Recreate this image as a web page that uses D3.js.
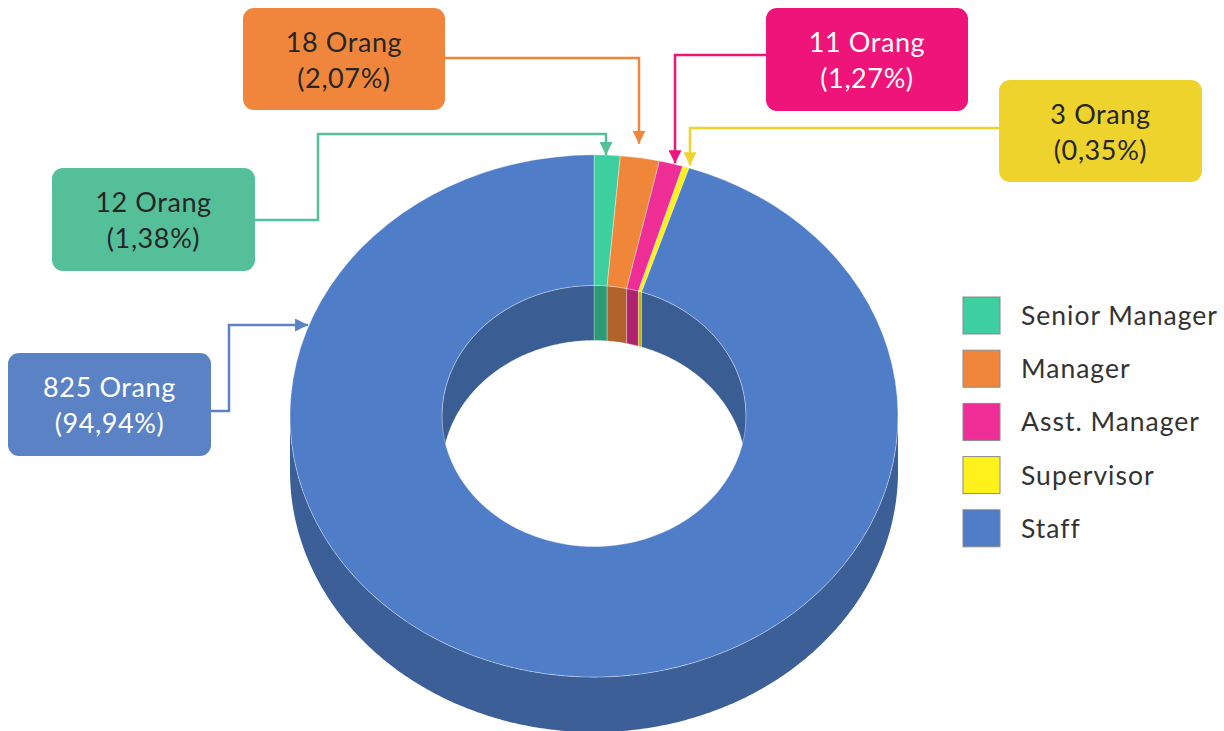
<!DOCTYPE html>
<html>
<head>
<meta charset="utf-8">
<script src="https://cdn.jsdelivr.net/npm/d3@7"></script>
<style>
  html, body { margin: 0; padding: 0; background: #fff; }
  svg { display: block; }
  text { font-family: Lato, "Open Sans", sans-serif; font-weight: 400; }
</style>
</head>
<body>
<svg id="chart" width="1224" height="731"></svg>
<script>
// data
const categories = ["Senior Manager", "Manager", "Asst. Manager", "Supervisor", "Staff"];
const counts = [12, 18, 11, 3, 825];
const unitLabel = "Orang";

// colours
const sliceColors = ["#3dcf9f", "#ef863a", "#ee2e96", "#fff21a", "#4f7dc8"];
const boxColors = ["#55bf9a", "#ef863b", "#ee1479", "#eed32c", "#5b82c4"];
const boxTextColors = ["#262626", "#262626", "#ffffff", "#262626", "#ffffff"];

// donut geometry (a tilted ring)
const cx = 594, cy = 416;
const outerR = 304, innerR = 152;
const tilt = 0.859;     // vertical squash of the ellipse
const depth = 55;       // thickness of the ring

// callout layout: box [x, y, w, h], elbow points, and where the arrow ends
const callouts = [
  { box: [52, 168, 203, 103], elbow: [[255, 220], [318, 220], [318, 134], [606, 134]], tip: { x: 606, gap: 0 } },
  { box: [243, 8, 202, 102], elbow: [[445, 58], [639, 58]], tip: { x: 639, gap: 14 } },
  { box: [766, 8, 202, 103], elbow: [[766, 55], [675, 55]], tip: { x: 675, gap: 1 } },
  { box: [999, 80, 203, 102], elbow: [[999, 128], [690, 128]], tip: { x: 690, gap: 3 } },
  { box: [8, 353, 203, 103], elbow: [[211, 411], [229, 411], [229, 325]], tip: { y: 325, gap: 1 } }
];

const total = d3.sum(counts);
const pctFormat = v => (v * 100).toFixed(2).replace(".", ",") + "%";

const svg = d3.select("#chart");

const pie = d3.pie().sort(null).value(d => d);
const slices = pie(counts);

// point on the tilted ellipse at angle a (0 = top, clockwise)
function proj(a, r, dy) {
  return [cx + r * Math.sin(a), cy - tilt * r * Math.cos(a) + (dy || 0)];
}

function wallPath(a0, a1, r) {
  const n = Math.max(2, Math.ceil((a1 - a0) / 0.01));
  const angles = d3.range(n + 1).map(i => a0 + (a1 - a0) * i / n);
  const top = angles.map(a => proj(a, r, 0));
  const bottom = angles.slice().reverse().map(a => proj(a, r, depth));
  return d3.line()(top.concat(bottom)) + "Z";
}

function darken(c, f) {
  const rgb = d3.rgb(c);
  return d3.rgb(rgb.r * f, rgb.g * f, rgb.b * f).formatHex();
}

// outer side wall: only the front half is visible
const outerWalls = svg.append("g").attr("class", "outer-walls");
slices.forEach((s, i) => {
  const lo = Math.max(s.startAngle, Math.PI / 2);
  const hi = Math.min(s.endAngle, 3 * Math.PI / 2);
  if (lo < hi) {
    outerWalls.append("path")
      .attr("d", wallPath(lo, hi, outerR))
      .attr("fill", darken(sliceColors[i], 0.76));
  }
});

// inner wall of the hole: only the back half is visible
const innerWalls = svg.append("g").attr("class", "inner-walls");
const backRanges = [[0, Math.PI / 2], [3 * Math.PI / 2, 2 * Math.PI]];
slices.forEach((s, i) => {
  backRanges.forEach(([r0, r1]) => {
    const lo = Math.max(s.startAngle, r0);
    const hi = Math.min(s.endAngle, r1);
    if (lo < hi) {
      innerWalls.append("path")
        .attr("d", wallPath(lo, hi, innerR))
        .attr("fill", darken(sliceColors[i], 0.74))
        .attr("stroke", "rgba(255,255,255,0.35)")
        .attr("stroke-width", 0.8);
    }
  });
});

// top face
const arc = d3.arc().innerRadius(innerR).outerRadius(outerR);
svg.append("g")
  .attr("class", "top-face")
  .attr("transform", `translate(${cx},${cy}) scale(1,${tilt})`)
  .selectAll("path")
  .data(slices)
  .enter()
  .append("path")
  .attr("d", arc)
  .attr("fill", (d, i) => sliceColors[i])
  .attr("stroke", "rgba(255,255,255,0.45)")
  .attr("stroke-width", 0.8)
  .attr("vector-effect", "non-scaling-stroke");

// arrow markers
const defs = svg.append("defs");
boxColors.forEach((c, i) => {
  defs.append("marker")
    .attr("id", "arrow" + i)
    .attr("viewBox", "0 0 10 10")
    .attr("refX", 10)
    .attr("refY", 5)
    .attr("markerWidth", 5.2)
    .attr("markerHeight", 5.2)
    .attr("markerUnits", "strokeWidth")
    .attr("orient", "auto")
    .append("path")
    .attr("d", "M0,0 L10,5 L0,10 Z")
    .attr("fill", c);
});

// connector lines
const lines = svg.append("g").attr("class", "callout-lines");
callouts.forEach((c, i) => {
  let end;
  if (c.tip.x !== undefined) {
    const dx = c.tip.x - cx;
    const yEdge = cy - tilt * Math.sqrt(outerR * outerR - dx * dx);
    end = [c.tip.x, yEdge - c.tip.gap];
  } else {
    const dy = (cy - c.tip.y) / tilt;
    const xEdge = cx - Math.sqrt(outerR * outerR - dy * dy);
    end = [xEdge - c.tip.gap, c.tip.y];
  }
  lines.append("path")
    .attr("d", d3.line()(c.elbow.concat([end])))
    .attr("fill", "none")
    .attr("stroke", boxColors[i])
    .attr("stroke-width", 2.5)
    .attr("marker-end", `url(#arrow${i})`);
});

// callout boxes
const boxes = svg.append("g").attr("class", "callout-boxes")
  .selectAll("g")
  .data(callouts)
  .enter()
  .append("g")
  .attr("transform", d => `translate(${d.box[0]},${d.box[1]})`);

boxes.append("rect")
  .attr("width", d => d.box[2])
  .attr("height", d => d.box[3])
  .attr("rx", 11)
  .attr("fill", (d, i) => boxColors[i]);

const boxText = boxes.append("text")
  .attr("text-anchor", "middle")
  .attr("font-size", 27)
  .attr("letter-spacing", 0.6)
  .attr("fill", (d, i) => boxTextColors[i]);

boxText.append("tspan")
  .attr("x", d => d.box[2] / 2)
  .attr("y", 44)
  .text((d, i) => `${counts[i]} ${unitLabel}`);

boxText.append("tspan")
  .attr("x", d => d.box[2] / 2)
  .attr("y", 80)
  .text((d, i) => `(${pctFormat(counts[i] / total)})`);

// legend
const legend = svg.append("g")
  .attr("class", "legend")
  .attr("transform", "translate(963,297)");

const legendItem = legend.selectAll("g")
  .data(categories)
  .enter()
  .append("g")
  .attr("transform", (d, i) => `translate(0,${i * 53.2})`);

legendItem.append("rect")
  .attr("width", 37)
  .attr("height", 37)
  .attr("fill", (d, i) => sliceColors[i])
  .attr("stroke", "#8a8a8a")
  .attr("stroke-width", 1);

legendItem.append("text")
  .attr("x", 58)
  .attr("y", 28)
  .attr("font-size", 26.5)
  .attr("letter-spacing", 1)
  .attr("fill", "#333")
  .text(d => d);
</script>
</body>
</html>
